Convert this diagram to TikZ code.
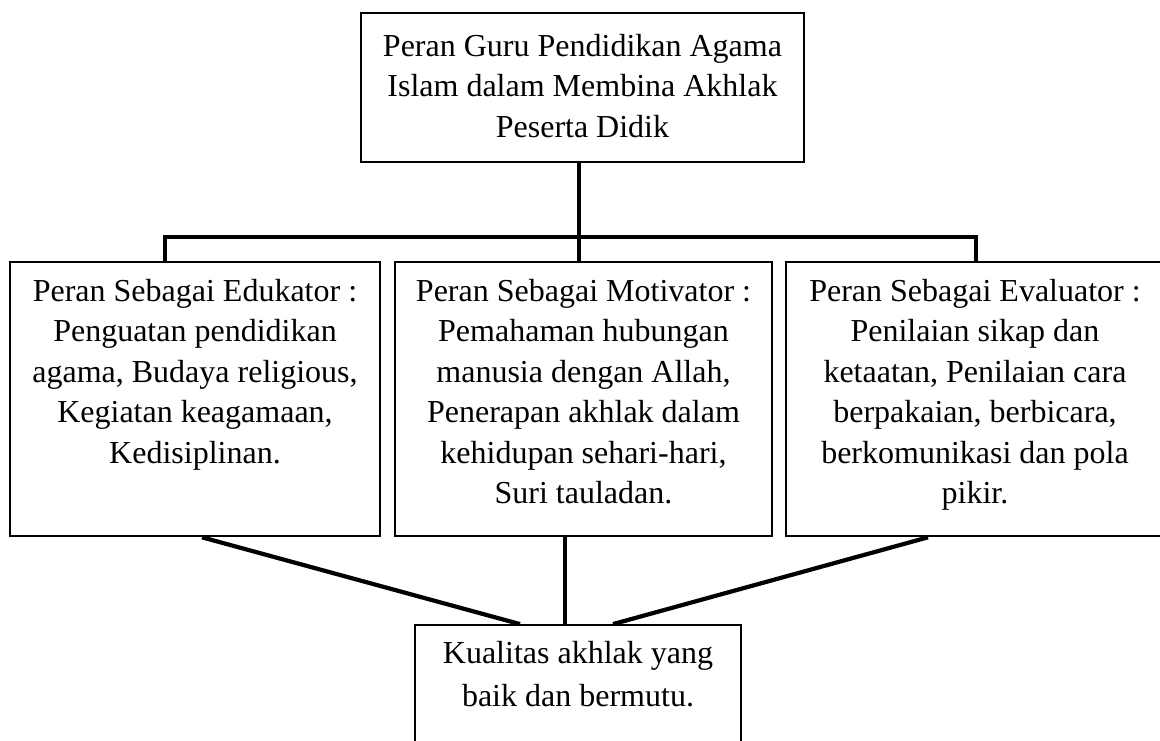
\documentclass[tikz,border=0pt]{standalone}
\usepackage{fontspec}
\setmainfont{Liberation Serif}
\usetikzlibrary{positioning}

\begin{document}
\begin{tikzpicture}[x=1pt, y=-1pt,
    box/.style={draw, line width=2.6pt, inner sep=0pt, minimum height=274pt},
    lbl/.style={align=center, inner sep=0pt, font=\fontsize{32}{40.5}\selectfont},
    link/.style={line width=4.2pt}]
    \useasboundingbox (0,0) rectangle (1160,740);
    \clip (0,0) rectangle (1160,740);

    % Peran guru
    \node[box, minimum width=443pt, minimum height=149pt] (top) at (582.5,87.5) {};
    \node[lbl, below=22pt of top.north] (topT) {Peran Guru Pendidikan Agama\\Islam dalam Membina Akhlak\\Peserta Didik};

    % Edukator, Motivator, Evaluator
    \node[box, minimum width=370pt] (edu) at (195,399) {};
    \node[box, minimum width=377pt] (mot) at (583.5,399) {};
    \node[box, minimum width=378pt] (eva) at (975,399) {};
    \node[lbl, below=18pt of edu.north] (eduT) {Peran Sebagai Edukator :\\Penguatan pendidikan\\agama, Budaya religious,\\Kegiatan keagamaan,\\Kedisiplinan.};
    \node[lbl, below=18pt of mot.north] (motT) {Peran Sebagai Motivator :\\Pemahaman hubungan\\manusia dengan Allah,\\Penerapan akhlak dalam\\kehidupan sehari-hari,\\Suri tauladan.};
    \node[lbl, below=18pt of eva.north] (evaT) {Peran Sebagai Evaluator :\\Penilaian sikap dan\\ketaatan, Penilaian cara\\berpakaian, berbicara,\\berkomunikasi dan pola\\pikir.};

    % Kualitas akhlak
    \node[box, line width=1.8pt, minimum width=326pt, minimum height=150pt] (kual) at (578,700) {};
    \node[lbl, font=\fontsize{32}{43}\selectfont, below=17pt of kual.north] (kualT) {Kualitas akhlak yang\\baik dan bermutu.};

    % Connectors
    \coordinate (bar) at (579,237);
    \draw[link] ([xshift=-3.5pt]top.south) -- ([xshift=-4.5pt]mot.north);
    \draw[link] ([xshift=-30pt]edu.north) |- (bar) -| ([xshift=1pt]eva.north);
    \draw[link] ([xshift=7pt]edu.south) -- ([xshift=-58pt]kual.north);
    \draw[link] ([xshift=-18.5pt]mot.south) -- ([xshift=-13pt]kual.north);
    \draw[link] ([xshift=-47pt]eva.south) -- ([xshift=35pt]kual.north);
\end{tikzpicture}
\end{document}
